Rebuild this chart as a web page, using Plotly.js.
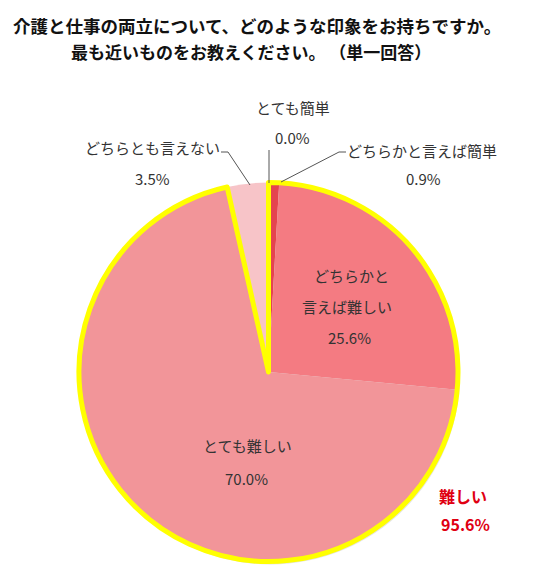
<!DOCTYPE html>
<html>
<head>
<meta charset="utf-8">
<script src="https://cdn.plot.ly/plotly-3.0.1.min.js"></script>
<style>
html,body{margin:0;padding:0;background:#fff;}
#chart{width:535px;height:579px;}
</style>
</head>
<body>
<div id="chart"></div>
<script>
// ---- data ----
var categories = ["とても簡単", "どちらかと言えば簡単", "どちらかと言えば難しい", "とても難しい", "どちらとも言えない"];
var values = [0.0, 0.9, 25.6, 70.0, 3.5];
var sliceColors = ["#d9303c", "#e4444f", "#f47b82", "#f29599", "#f7c4c8"];
var displayLabels = [["とても簡単"], ["どちらかと言えば簡単"], ["どちらかと", "言えば難しい"], ["とても難しい"], ["どちらとも言えない"]];
var summaryLabel = "難しい";
var summaryValue = 95.6;
var titleLines = ["介護と仕事の両立について、どのような印象をお持ちですか。", "最も近いものをお教えください。 （単一回答）"];

// ---- layout helpers (pixel -> paper) ----
var W = 535, H = 579;
function px(x){ return x / W; }
function py(y){ return 1 - y / H; }
var cx = 268.5, cy = 372, r = 189.5;
var dom = {x:[px(cx - r), px(cx + r)], y:[py(cy + r), py(cy - r)]};
var shadowDom = {x:[px(cx - r + 2), px(cx + r + 2)], y:[py(cy + r + 3), py(cy - r + 3)]};

var fontJP = '"Noto Sans CJK JP", "Noto Sans", sans-serif';
var txtColor = "#333333";

var shadow = {
  type: "pie", values: [1], labels: ["shadow"], sort: false,
  marker: {colors: ["rgba(0,0,0,0.10)"], line: {width: 0}},
  textinfo: "none", hoverinfo: "skip", showlegend: false,
  domain: shadowDom
};

var main = {
  type: "pie", values: values, labels: categories, sort: false,
  direction: "clockwise", rotation: 0,
  marker: {colors: sliceColors, line: {width: 0}},
  textinfo: "none", hoverinfo: "label+value", showlegend: false,
  domain: dom
};

var difficultSum = values[0] + values[1] + values[2] + values[3];
var outline = {
  type: "pie", values: [difficultSum, values[4]], labels: ["outline", "rest"], sort: false,
  direction: "clockwise", rotation: 0,
  marker: {colors: ["rgba(0,0,0,0)", "rgba(0,0,0,0)"],
           line: {color: ["#ffff00", "rgba(0,0,0,0)"], width: [5, 0]}},
  textinfo: "none", hoverinfo: "skip", showlegend: false,
  domain: dom
};

// label positions (pixel centres): [nameX, firstLineY, valueX, valueY]
var labelPos = [
  [293, 107, 292, 137],
  [422, 150, 423, 178],
  [351, 275, 349, 337],
  [247, 445, 246, 478],
  [152, 147, 152, 178]
];
var lineGap = 31;

var annotations = [];
for (var i = 0; i < categories.length; i++) {
  var p = labelPos[i];
  for (var j = 0; j < displayLabels[i].length; j++) {
    annotations.push({
      xref: "paper", yref: "paper", x: px(p[0] - (j ? 4 : 0)), y: py(p[1] + j * lineGap),
      text: displayLabels[i][j], showarrow: false, xanchor: "center", yanchor: "middle",
      font: {family: fontJP, size: 15, color: txtColor}
    });
  }
  annotations.push({
    xref: "paper", yref: "paper", x: px(p[2]), y: py(p[3]),
    text: values[i].toFixed(1) + "%", showarrow: false, xanchor: "center", yanchor: "middle",
    font: {family: fontJP, size: 15, color: txtColor}
  });
}
annotations.push({
  xref: "paper", yref: "paper", x: px(463), y: py(496),
  text: "<b>" + summaryLabel + "</b>", showarrow: false, xanchor: "center", yanchor: "middle",
  font: {family: fontJP, size: 16, color: "#e00012"}
});
annotations.push({
  xref: "paper", yref: "paper", x: px(465), y: py(524),
  text: "<b>" + summaryValue.toFixed(1) + "%</b>", showarrow: false, xanchor: "center", yanchor: "middle",
  font: {family: fontJP, size: 16, color: "#e00012"}
});
annotations.push({
  xref: "paper", yref: "paper", x: px(257), y: py(25),
  text: "<b>" + titleLines[0] + "</b>", showarrow: false, xanchor: "center", yanchor: "middle",
  font: {family: fontJP, size: 17.5, color: "#111111"}
});
annotations.push({
  xref: "paper", yref: "paper", x: px(251), y: py(52),
  text: "<b>" + titleLines[1] + "</b>", showarrow: false, xanchor: "center", yanchor: "middle",
  font: {family: fontJP, size: 17, color: "#111111"}
});

function seg(pts){
  var d = "M" + px(pts[0][0]) + "," + py(pts[0][1]);
  for (var k = 1; k < pts.length; k++) d += " L" + px(pts[k][0]) + "," + py(pts[k][1]);
  return {type: "path", xref: "paper", yref: "paper", path: d, line: {color: "#555555", width: 1}};
}
var shapes = [
  seg([[269, 150], [269, 183]]),
  seg([[346, 152], [339, 152], [281, 182]]),
  seg([[221, 152], [228, 152], [250, 185]])
];

var layout = {
  width: W, height: H,
  margin: {l: 0, r: 0, t: 0, b: 0},
  paper_bgcolor: "#ffffff",
  showlegend: false,
  annotations: annotations,
  shapes: shapes
};

Plotly.newPlot("chart", [shadow, main, outline], layout, {displayModeBar: false, staticPlot: true});
</script>
</body>
</html>
